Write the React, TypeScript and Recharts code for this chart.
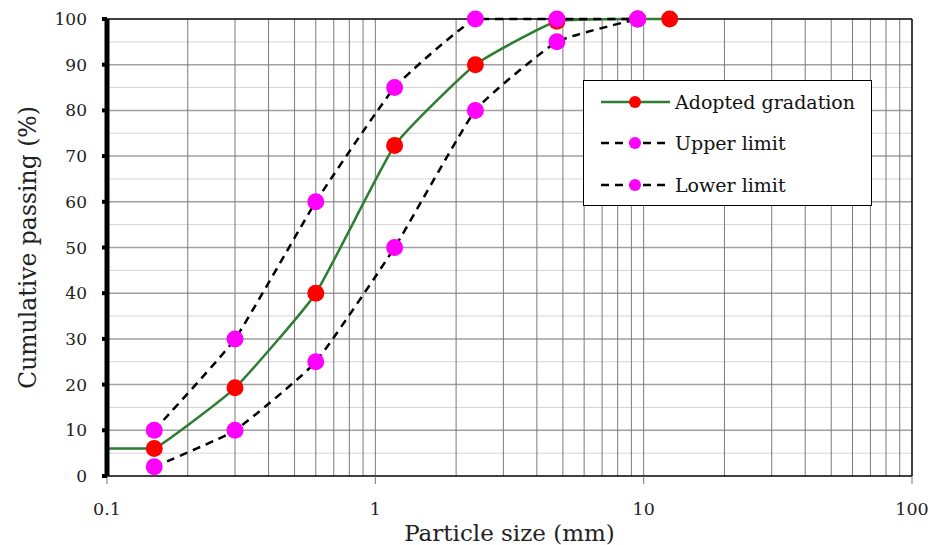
import { LineChart, Line, XAxis, YAxis, ReferenceLine, Label } from 'recharts';

// sieve sizes (mm) and cumulative passing (%)
const adoptedSize = [0.1, 0.15, 0.3, 0.6, 1.18, 2.36, 4.75, 9.5, 12.5];
const adoptedPass = [6, 6, 19.3, 40, 72.3, 90, 99.5, 100, 100];

const upperSize = [0.15, 0.3, 0.6, 1.18, 2.36, 4.75, 9.5];
const upperPass = [10, 30, 60, 85, 100, 100, 100];

const lowerSize = [0.15, 0.3, 0.6, 1.18, 2.36, 4.75, 9.5];
const lowerPass = [2, 10, 25, 50, 80, 95, 100];

const xTicks = [0.1, 1, 10, 100];
const yTicks = [0, 10, 20, 30, 40, 50, 60, 70, 80, 90, 100];
const yMinor = [5, 15, 25, 35, 45, 55, 65, 75, 85, 95];
const decades = [0.1, 1, 10];
const steps = [2, 3, 4, 5, 6, 7, 8, 9];

const FONT = '"DejaVu Serif", serif';

const toRows = (sizes: number[], pass: number[]) =>
  sizes.map((s, i) => ({ size: s, pass: pass[i] }));

const adopted = toRows(adoptedSize, adoptedPass);
const upper = toRows(upperSize, upperPass);
const lower = toRows(lowerSize, lowerPass);

// vertical grid at 2..9 of every decade, plus the decade lines
const gridX = [
  ...decades.flatMap((d) => steps.map((k) => +(d * k).toPrecision(3))),
  1,
  10,
];

// soft smoothing like Excel's, control points kept inside each segment so no overshoot
const makeSmooth = (k: number) => (context: any) => {
  let pts: [number, number][] = [];
  const clamp = (v: number, a: number, b: number) => Math.max(Math.min(a, b), Math.min(Math.max(a, b), v));
  return {
    areaStart() {},
    areaEnd() {},
    lineStart() {
      pts = [];
    },
    point(x: number, y: number) {
      pts.push([+x, +y]);
    },
    lineEnd() {
      if (!pts.length) return;
      context.moveTo(pts[0][0], pts[0][1]);
      for (let i = 0; i < pts.length - 1; i++) {
        const p0 = pts[i - 1] || pts[i];
        const p1 = pts[i];
        const p2 = pts[i + 1];
        const p3 = pts[i + 2] || p2;
        const c1x = p1[0] + (p2[0] - p0[0]) * k;
        const c1y = clamp(p1[1] + (p2[1] - p0[1]) * k, p1[1], p2[1]);
        const c2x = p2[0] - (p3[0] - p1[0]) * k;
        const c2y = clamp(p2[1] - (p3[1] - p1[1]) * k, p1[1], p2[1]);
        context.bezierCurveTo(c1x, c1y, c2x, c2y, p2[0], p2[1]);
      }
    },
  };
};

const softCurve = makeSmooth(0.07);

const legendItems = [
  { name: 'Adopted gradation', stroke: '#2e7d32', dash: undefined as string | undefined, fill: '#ff0000' },
  { name: 'Upper limit', stroke: '#000', dash: '8 6', fill: '#ff00ff' },
  { name: 'Lower limit', stroke: '#000', dash: '8 6', fill: '#ff00ff' },
];

function LegendBox() {
  return (
    <div
      style={{
        position: 'absolute',
        left: 583,
        top: 80,
        width: 289,
        height: 126,
        border: '1.5px solid #000',
        background: '#fff',
        boxSizing: 'border-box',
      }}
    >
      {legendItems.map((it) => (
        <div key={it.name} style={{ display: 'flex', alignItems: 'center', height: 41.5 }}>
          <svg width={76} height={20} style={{ marginLeft: 14 }}>
            <line x1={3} y1={10} x2={72} y2={10} stroke={it.stroke} strokeWidth={2.5} strokeDasharray={it.dash} />
            <circle cx={37} cy={10} r={6} fill={it.fill} />
          </svg>
          <span style={{ fontFamily: FONT, fontSize: 19, color: '#111', marginLeft: 1 }}>{it.name}</span>
        </div>
      ))}
    </div>
  );
}

const adoptedDot = (props: any) => {
  const { cx, cy, index } = props;
  if (index === 0) return <g key={`a-${index}`} />;
  return <circle key={`a-${index}`} cx={cx} cy={cy} r={8.5} fill="#ff0000" />;
};

export default function App() {
  return (
    <div style={{ position: 'absolute', left: 0, top: 0, width: 934, height: 545, background: '#fff' }}>
      <LineChart width={934} height={545} margin={{ top: 19, right: 22, left: 47, bottom: 39 }}>
        <XAxis
          dataKey="size"
          type="number"
          scale="log"
          domain={[0.1, 100]}
          ticks={xTicks}
          allowDuplicatedCategory={false}
          height={30}
          axisLine={{ stroke: '#000', strokeWidth: 1.5 }}
          tickSize={8}
          tickMargin={19}
          tickLine={{ stroke: '#777', strokeWidth: 1 }}
          tick={{ fontFamily: FONT, fontSize: 17.5, fill: '#222' }}
        >
          <Label
            value="Particle size (mm)"
            position="bottom"
            offset={19}
            style={{ fontFamily: FONT, fontSize: 23, fill: '#222' }}
          />
        </XAxis>
        <YAxis
          dataKey="pass"
          type="number"
          domain={[0, 100]}
          ticks={yTicks}
          width={60}
          axisLine={{ stroke: '#000', strokeWidth: 5 }}
          tickSize={5}
          tickMargin={15}
          tickLine={{ stroke: '#000', strokeWidth: 4 }}
          tick={{ fontFamily: FONT, fontSize: 17, fill: '#222' }}
        >
          <Label
            value="Cumulative passing (%)"
            angle={-90}
            position="center"
            dx={-49}
            style={{ fontFamily: FONT, fontSize: 23.5, fill: '#222', textAnchor: 'middle' }}
          />
        </YAxis>

        {yMinor.map((v) => (
          <ReferenceLine key={`ym-${v}`} y={v} stroke="#d4d4d4" strokeWidth={1} />
        ))}
        {yTicks.slice(1, -1).map((v) => (
          <ReferenceLine key={`yM-${v}`} y={v} stroke="#a0a0a0" strokeWidth={1.5} />
        ))}
        {gridX.map((v) => (
          <ReferenceLine key={`x-${v}`} x={v} stroke="#7a7a7a" strokeWidth={1} />
        ))}
        <ReferenceLine y={100} stroke="#000" strokeWidth={1.5} />
        <ReferenceLine x={100} stroke="#000" strokeWidth={1.5} />

        <Line
          data={adopted}
          dataKey="pass"
          type={softCurve as any}
          stroke="#2e7d32"
          strokeWidth={2.5}
          dot={adoptedDot}
          activeDot={false}
          isAnimationActive={false}
        />
        <Line
          data={upper}
          dataKey="pass"
          type={softCurve as any}
          stroke="#000"
          strokeWidth={2.5}
          strokeDasharray="8 6"
          dot={{ r: 8.5, fill: '#ff00ff', stroke: 'none' }}
          activeDot={false}
          isAnimationActive={false}
        />
        <Line
          data={lower}
          dataKey="pass"
          type={softCurve as any}
          stroke="#000"
          strokeWidth={2.5}
          strokeDasharray="8 6"
          dot={{ r: 8.5, fill: '#ff00ff', stroke: 'none' }}
          activeDot={false}
          isAnimationActive={false}
        />
      </LineChart>
      <LegendBox />
    </div>
  );
}
